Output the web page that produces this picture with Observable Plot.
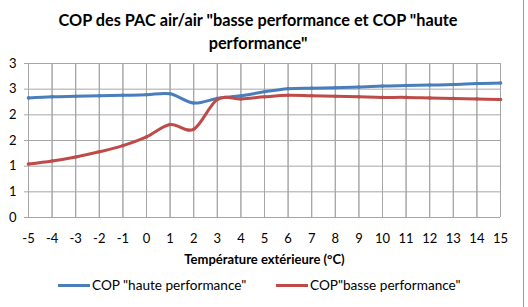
<!DOCTYPE html>
<html>
<head>
<meta charset="utf-8">
<script src="https://cdn.jsdelivr.net/npm/d3@7"></script>
<script src="https://cdn.jsdelivr.net/npm/@observablehq/plot@0.6"></script>
<style>
  html, body { margin: 0; padding: 0; background: #fff; }
  #chart { position: relative; width: 528px; height: 307px; overflow: hidden; font-family: Lato, "Open Sans", sans-serif; }
  #title { position: absolute; left: 0; top: 8px; width: 516px; text-align: center; font-weight: bold; font-size: 16.3px; line-height: 23px; color: #000; }
  #plot { position: absolute; left: 0; top: 55px; }
  #legend { position: absolute; left: 0; top: 276px; width: 528px; font-size: 13.6px; color: #000; }
  .item { position: absolute; top: 0; display: flex; align-items: center; height: 18px; }
  .swatch { width: 32px; height: 3px; margin-right: 2px; position: relative; }
  #frame { position: absolute; left: 523px; top: 0; width: 1px; height: 307px; background: #9a9a9a; }
</style>
</head>
<body>
<div id="chart">
  <div id="title">COP des PAC air/air "basse performance et COP "haute<br>performance"</div>
  <div id="plot"></div>
  <div id="legend"></div>
  <div id="frame"></div>
</div>
<script>
// Outdoor temperature (°C)
const temperatures = [-5, -4, -3, -2, -1, 0, 1, 2, 3, 4, 5, 6, 7, 8, 9, 10, 11, 12, 13, 14, 15];

// COP of the "high performance" air/air heat pump
const copHaute = [2.33, 2.35, 2.36, 2.37, 2.38, 2.39, 2.41, 2.23, 2.32, 2.37, 2.45, 2.51, 2.52, 2.53, 2.54, 2.56, 2.57, 2.58, 2.59, 2.61, 2.62];

// COP of the "low performance" air/air heat pump
const copBasse = [1.04, 1.10, 1.18, 1.28, 1.40, 1.57, 1.81, 1.72, 2.30, 2.31, 2.35, 2.38, 2.37, 2.36, 2.35, 2.34, 2.34, 2.33, 2.32, 2.31, 2.30];

// Y gridline values and their printed labels (rounded to whole numbers)
const yTicks = [0, 0.5, 1, 1.5, 2, 2.5, 3];
const yTickLabels = ["0", "1", "1", "2", "2", "3", "3"];

const seriesNames = ['COP "haute performance"', 'COP"basse performance"'];
const seriesColors = ["#4a7ebb", "#be4b48"];

const rows = [
  ...temperatures.map((t, i) => ({t, cop: copHaute[i], serie: seriesNames[0]})),
  ...temperatures.map((t, i) => ({t, cop: copBasse[i], serie: seriesNames[1]}))
];

const grid = "#a6a6a6";

const chart = Plot.plot({
  width: 528,
  height: 215,
  marginTop: 8,
  marginBottom: 53,
  marginLeft: 28,
  marginRight: 28,
  style: {fontFamily: "Lato, 'Open Sans', sans-serif", fontSize: "13px", color: "#000", background: "#fff"},
  x: {domain: [-5, 15], ticks: temperatures, tickSize: 0, label: null},
  y: {domain: [0, 3], ticks: yTicks, label: null},
  color: {domain: seriesNames, range: seriesColors},
  marks: [
    Plot.gridX(temperatures, {stroke: grid, strokeOpacity: 1, strokeWidth: 1}),
    Plot.gridY(yTicks, {stroke: grid, strokeOpacity: 1, strokeWidth: 1}),
    Plot.tickX(temperatures, {x: d => d, y1: 0, y2: -0.08, stroke: grid}),
    Plot.axisX({ticks: temperatures, tickFormat: d => String(d), tickSize: 0, tickPadding: 16, fontSize: 13, label: null}),
    Plot.axisY({ticks: yTicks, tickFormat: (d, i) => yTickLabels[i], tickSize: 4, stroke: grid, tickPadding: 8, fontSize: 13, label: null}),
    Plot.text(["Température extérieure (°C)"], {frameAnchor: "bottom", lineAnchor: "middle", dy: 42, fontWeight: "bold", fontSize: 13, text: d => d}),
    Plot.line(rows, {x: "t", y: "cop", z: "serie", stroke: "serie", strokeWidth: 3, curve: "cardinal", tension: 0}),
    Plot.dot(rows, {x: "t", y: "cop", fill: "serie", r: 1.8, stroke: "none", fillOpacity: 0.9})
  ]
});
document.getElementById("plot").appendChild(chart);

// Legend below the plot
const legend = document.getElementById("legend");
const positions = [58, 276];
seriesNames.forEach((name, i) => {
  const item = document.createElement("div");
  item.className = "item";
  item.style.left = positions[i] + "px";
  const sw = document.createElement("div");
  sw.className = "swatch";
  sw.style.background = seriesColors[i];
  item.appendChild(sw);
  const label = document.createElement("span");
  label.textContent = name;
  item.appendChild(label);
  legend.appendChild(item);
});
</script>
</body>
</html>
